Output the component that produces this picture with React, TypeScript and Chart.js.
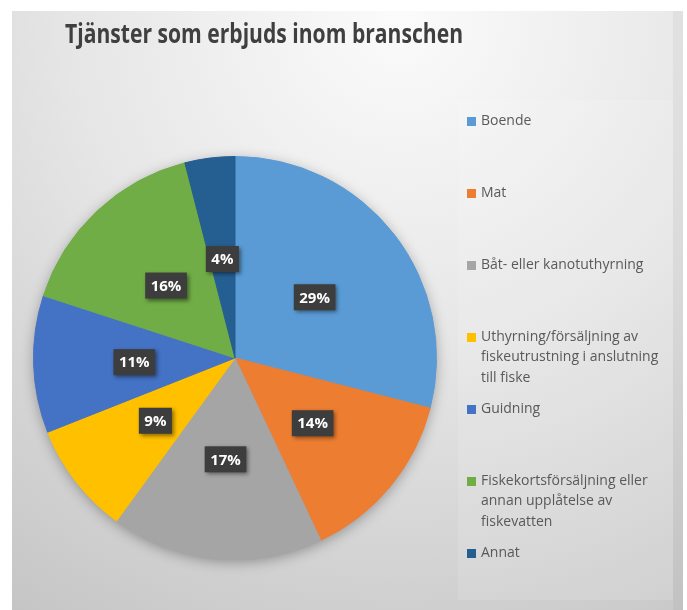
import React, { useEffect, useRef } from "react";
import { Chart, registerables } from "chart.js";

Chart.register(...registerables);

const title = "Tjänster som erbjuds inom branschen";
const categories = [
  "Boende",
  "Mat",
  "Båt- eller kanotuthyrning",
  "Uthyrning/försäljning av fiskeutrustning i anslutning till fiske",
  "Guidning",
  "Fiskekortsförsäljning eller annan upplåtelse av fiskevatten",
  "Annat",
];
const values = [29, 14, 17, 9, 11, 16, 4];
const colors = ["#5B9BD5", "#ED7D31", "#A5A5A5", "#FFC000", "#4472C4", "#70AD47", "#255E91"];
const legendLines = [
  ["Boende"],
  ["Mat"],
  ["Båt- eller kanotuthyrning"],
  ["Uthyrning/försäljning av", "fiskeutrustning i anslutning", "till fiske"],
  ["Guidning"],
  ["Fiskekortsförsäljning eller", "annan upplåtelse av", "fiskevatten"],
  ["Annat"],
];

const W = 687;
const H = 610;

const backgroundPlugin = {
  id: "bgPanel",
  beforeDraw(chart: any) {
    const ctx = chart.ctx as CanvasRenderingContext2D;
    ctx.save();
    ctx.fillStyle = "#ffffff";
    ctx.fillRect(0, 0, W, H);
    const g = ctx.createRadialGradient(400, 20, 0, 400, 20, 730);
    g.addColorStop(0, "#fbfbfb");
    g.addColorStop(0.45, "#e6e6e6");
    g.addColorStop(1, "#c3c3c3");
    ctx.fillStyle = g;
    ctx.fillRect(12, 11, 671, H - 11);
    ctx.fillStyle = "rgba(255,255,255,0.12)";
    ctx.fillRect(458, 100, 215, 500);
    ctx.fillStyle = "rgba(0,0,0,0.035)";
    ctx.fillRect(673, 11, 10, H - 11);
    // title (horizontally condensed to match the narrow original face)
    ctx.fillStyle = "#3f3f3f";
    ctx.font = "bold 26px 'Open Sans'";
    ctx.textAlign = "center";
    ctx.textBaseline = "alphabetic";
    const tw = ctx.measureText(title).width;
    const sx = 398 / tw;
    ctx.translate(264, 43);
    ctx.scale(sx, 1);
    ctx.fillText(title, 0, 0);
    ctx.restore();
  },
  beforeDatasetsDraw(chart: any) {
    const ctx = chart.ctx as CanvasRenderingContext2D;
    const arc = chart.getDatasetMeta(0).data[0];
    if (!arc) return;
    const { x, y, outerRadius } = arc.getProps(["x", "y", "outerRadius"], true);
    ctx.save();
    ctx.shadowColor = "rgba(0,0,0,0.35)";
    ctx.shadowBlur = 14;
    ctx.shadowOffsetX = 0;
    ctx.shadowOffsetY = 3;
    ctx.fillStyle = "#999";
    ctx.beginPath();
    ctx.arc(x, y, outerRadius - 1, 0, Math.PI * 2);
    ctx.fill();
    ctx.restore();
  },
  afterDatasetsDraw(chart: any) {
    const ctx = chart.ctx as CanvasRenderingContext2D;
    const meta = chart.getDatasetMeta(0);
    const data = chart.data.datasets[0].data as number[];
    const total = data.reduce((a, b) => a + b, 0);
    ctx.save();
    ctx.font = "bold 15px 'Open Sans'";
    ctx.textAlign = "center";
    ctx.textBaseline = "middle";
    meta.data.forEach((el: any, i: number) => {
      const p = el.tooltipPosition(true);
      const txt = Math.round((data[i] / total) * 100) + "%";
      const tw = ctx.measureText(txt).width;
      const bw = tw + 11;
      const bh = 26;
      const cy = p.y + 1;
      ctx.save();
      ctx.shadowColor = "rgba(0,0,0,0.45)";
      ctx.shadowBlur = 4;
      ctx.shadowOffsetX = 2;
      ctx.shadowOffsetY = 2;
      ctx.fillStyle = "#3d3d3d";
      ctx.fillRect(p.x - bw / 2, cy - bh / 2, bw, bh);
      ctx.restore();
      ctx.fillStyle = "#ffffff";
      ctx.fillText(txt, p.x, cy + 1);
    });
    ctx.restore();
  },
  afterDraw(chart: any) {
    const ctx = chart.ctx as CanvasRenderingContext2D;
    ctx.save();
    ctx.font = "14px 'Open Sans'";
    ctx.textAlign = "left";
    ctx.textBaseline = "middle";
    legendLines.forEach((lines, i) => {
      const y0 = 121 + i * 72;
      ctx.fillStyle = colors[i];
      ctx.fillRect(467, y0 - 4, 9, 9);
      ctx.fillStyle = "#595959";
      lines.forEach((ln, j) => {
        ctx.fillText(ln, 481, y0 + j * 20.5);
      });
    });
    ctx.restore();
  },
};

export default function App() {
  const ref = useRef<HTMLCanvasElement | null>(null);
  useEffect(() => {
    if (!ref.current) return;
    const chart = new Chart(ref.current, {
      type: "pie",
      data: {
        labels: categories,
        datasets: [
          {
            data: values,
            backgroundColor: colors,
            borderColor: colors,
            borderWidth: 1,
          },
        ],
      },
      options: {
        responsive: false,
        animation: false,
        layout: { padding: { left: 33, right: 250, top: 156, bottom: 50 } },
        plugins: {
          legend: { display: false },
          title: { display: false },
          tooltip: { enabled: false },
        },
      },
      plugins: [backgroundPlugin],
    });
    return () => chart.destroy();
  }, []);
  return (
    <div style={{ position: "absolute", left: 0, top: 0, width: W, height: H }}>
      <canvas ref={ref} width={W} height={H} style={{ width: W, height: H, display: "block" }} />
    </div>
  );
}
